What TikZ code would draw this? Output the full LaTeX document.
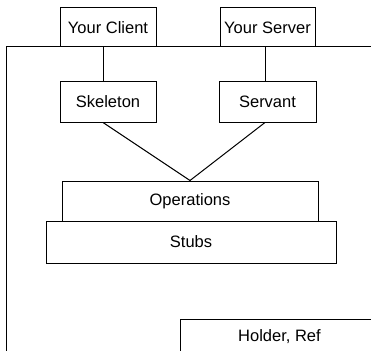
\documentclass[tikz,border=0pt]{standalone}
\usepackage{fontspec}
\setmainfont{Liberation Sans}
\usetikzlibrary{calc}

\begin{document}
\begin{tikzpicture}[x=1pt,y=-1pt,line width=1pt,
  box/.style={draw,rectangle,inner sep=0pt,font=\fontsize{16.5}{19}\selectfont}]
\useasboundingbox (0,0) rectangle (371,350);
\coordinate (L1) at (6,47);
\coordinate (L2) at (380,47);
\coordinate (L3) at (6,360);

\node[box,minimum width=96pt,minimum height=39pt] (client) at (108,27.5) {Your Client};
\node[box,minimum width=95pt,minimum height=39pt] (server) at (267.5,27.5) {Your Server};
\node[box,minimum width=96pt,minimum height=40pt] (skel) at (108,102) {Skeleton};
\node[box,minimum width=97pt,minimum height=40pt] (serv) at (267.5,102) {Servant};
\node[box,minimum width=256pt,minimum height=40pt] (ops) at (190,201) {Operations};
\node[box,minimum width=290pt,minimum height=42pt] (stubs) at (191,242) {Stubs};
\node[box,minimum width=199pt,minimum height=36pt] (holder) at (279.5,337) {Holder, Ref};

\draw (L1) -- (L2);
\draw (L1) -- (L3);
\draw (skel.north -| 103,0) -- (103,47);
\draw (serv.north -| 265,0) -- (265,47);
\draw (skel.south -| 103,0) -- (ops.north);
\draw (serv.south -| 265,0) -- (ops.north);
\end{tikzpicture}
\end{document}
